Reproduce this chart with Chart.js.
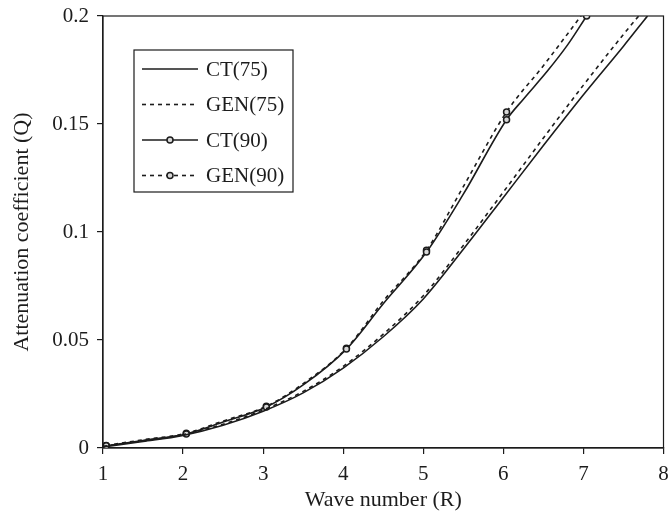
<!DOCTYPE html>
<html>
<head>
<meta charset="utf-8">
<script src="https://cdn.jsdelivr.net/npm/chart.js@4.4.1/dist/chart.umd.min.js"></script>
<style>
    html, body { margin: 0; padding: 0; background: #fff; }
</style>
</head>
<body>
<canvas id="chart" width="669" height="516"></canvas>
<script>
// Series names (legend order)
const seriesNames = ['CT(75)', 'GEN(75)', 'CT(90)', 'GEN(90)'];

// CT(75)
const ct75X = [1, 1.5, 2, 2.5, 3, 3.5, 4, 4.5, 5, 5.5, 6, 6.5, 7, 7.5, 7.8];
const ct75Y = [0.0005, 0.003, 0.0058, 0.0105, 0.017, 0.0255, 0.037, 0.0515, 0.069, 0.092, 0.116, 0.14, 0.1635, 0.186, 0.2];

// GEN(75)
const gen75X = [1, 1.5, 2, 2.5, 3, 3.5, 4, 4.5, 5, 5.5, 6, 6.5, 7, 7.5, 7.69];
const gen75Y = [0.0008, 0.0033, 0.0062, 0.011, 0.0176, 0.0262, 0.0378, 0.0527, 0.0705, 0.0938, 0.1185, 0.1435, 0.168, 0.1915, 0.2];

// CT(90)
const ct90X = [1.04, 1.5, 2.04, 2.5, 3.04, 3.5, 4.04, 4.5, 5.04, 5.5, 6.04, 6.25, 6.55, 6.8, 7.04];
const ct90Y = [0.001, 0.0035, 0.0065, 0.012, 0.019, 0.0292, 0.0458, 0.0668, 0.0907, 0.1175, 0.152, 0.1615, 0.1745, 0.1865, 0.2];

// GEN(90)
const gen90X = [1.04, 1.5, 2.04, 2.5, 3.04, 3.5, 4.04, 4.5, 5.04, 5.5, 6.04, 6.5, 6.97];
const gen90Y = [0.0012, 0.0038, 0.0068, 0.0125, 0.0193, 0.0298, 0.0462, 0.068, 0.0915, 0.121, 0.1556, 0.177, 0.2];

// x positions that carry a circle marker on the 90 series
const markerX = [1.04, 2.04, 3.04, 4.04, 5.04, 6.04, 7.04];

// Axis ticks
const xTicks = [1, 2, 3, 4, 5, 6, 7, 8];
const yTicks = [0, 0.05, 0.1, 0.15, 0.2];
const yTickLabels = ['0', '0.05', '0.1', '0.15', '0.2'];

const serif = '"Liberation Serif", "Times New Roman", serif';
const ink = '#1c1c1c';

function pts(xs, ys) {
    return xs.map((x, i) => ({ x: x, y: ys[i] }));
}

function markerRadius(ctx) {
    return ctx.raw && markerX.includes(ctx.raw.x) ? 3 : 0;
}

// box round the plot area
const frame = {
    id: 'frame',
    beforeDatasetsDraw(chart) {
        const c = chart.ctx, a = chart.chartArea;
        c.save();
        c.strokeStyle = ink;
        c.lineWidth = 1.2;
        c.strokeRect(a.left, a.top, a.right - a.left, a.bottom - a.top);
        c.restore();
    }
};

// legend drawn inside the plot, with line samples
const boxLegend = {
    id: 'boxLegend',
    afterDraw(chart) {
        const c = chart.ctx, a = chart.chartArea;
        const x0 = a.left + 31, y0 = a.top + 34, w = 159, h = 142;
        c.save();
        c.fillStyle = '#fff';
        c.fillRect(x0, y0, w, h);
        c.strokeStyle = ink;
        c.lineWidth = 1.2;
        c.strokeRect(x0, y0, w, h);
        chart.data.datasets.forEach((ds, i) => {
            const y = y0 + 19 + i * 35.5;
            const lx = x0 + 8, len = 56;
            c.beginPath();
            c.setLineDash(ds.borderDash || []);
            c.lineWidth = ds.borderWidth;
            c.strokeStyle = ds.borderColor;
            c.moveTo(lx, y);
            c.lineTo(lx + len, y);
            c.stroke();
            c.setLineDash([]);
            if (typeof ds.pointRadius === 'function') {
                c.beginPath();
                c.arc(lx + len / 2, y, 3, 0, Math.PI * 2);
                c.fillStyle = ds.pointBackgroundColor;
                c.fill();
                c.lineWidth = ds.pointBorderWidth;
                c.strokeStyle = ds.pointBorderColor;
                c.stroke();
            }
            c.fillStyle = ink;
            c.font = '21px ' + serif;
            c.textBaseline = 'middle';
            c.textAlign = 'left';
            c.fillText(ds.label, x0 + 72, y + 1);
        });
        c.restore();
    }
};

const lineBase = {
    borderColor: ink,
    borderWidth: 1.6,
    cubicInterpolationMode: 'monotone',
    pointBackgroundColor: '#d8d8d8',
    pointBorderColor: ink,
    pointBorderWidth: 1.5
};

const ctx = document.getElementById('chart').getContext('2d');
const chart = new Chart(ctx, {
    type: 'line',
    data: {
        datasets: [
            Object.assign({}, lineBase, { label: seriesNames[0], data: pts(ct75X, ct75Y), pointRadius: 0 }),
            Object.assign({}, lineBase, { label: seriesNames[1], data: pts(gen75X, gen75Y), pointRadius: 0, borderDash: [4, 4] }),
            Object.assign({}, lineBase, { label: seriesNames[2], data: pts(ct90X, ct90Y), pointRadius: markerRadius }),
            Object.assign({}, lineBase, { label: seriesNames[3], data: pts(gen90X, gen90Y), pointRadius: markerRadius, borderDash: [4, 4] })
        ]
    },
    options: {
        responsive: false,
        animation: false,
        layout: {
            padding: { top: 16, right: 4, left: 0, bottom: 0 }
        },
        plugins: {
            legend: { display: false },
            tooltip: { enabled: false }
        },
        scales: {
            x: {
                type: 'linear',
                min: 1,
                max: 8,
                afterBuildTicks: scale => { scale.ticks = xTicks.map(v => ({ value: v })); },
                afterFit: scale => {
                    scale.height = 68;
                    scale.paddingLeft = 0;
                    scale.paddingRight = 0;
                },
                border: { display: true, color: ink, width: 1.2 },
                grid: { drawOnChartArea: false, drawTicks: true, tickLength: 6, color: ink, lineWidth: 1.2 },
                ticks: {
                    color: ink,
                    padding: 8,
                    maxRotation: 0,
                    font: { family: serif, size: 21 },
                    callback: value => String(value)
                },
                title: {
                    display: true,
                    text: 'Wave number (R)',
                    color: ink,
                    font: { family: serif, size: 22 },
                    padding: { top: 0, bottom: 3 }
                }
            },
            y: {
                type: 'linear',
                min: 0,
                max: 0.2,
                afterBuildTicks: scale => { scale.ticks = yTicks.map(v => ({ value: v })); },
                afterFit: scale => {
                    scale.width = 103;
                    scale.paddingTop = 0;
                    scale.paddingBottom = 0;
                },
                border: { display: true, color: ink, width: 1.2 },
                grid: { drawOnChartArea: false, drawTicks: true, tickLength: 6, color: ink, lineWidth: 1.2 },
                ticks: {
                    color: ink,
                    padding: 8,
                    font: { family: serif, size: 21 },
                    callback: (value, index) => yTickLabels[index]
                },
                title: {
                    display: true,
                    text: 'Attenuation coefficient (Q)',
                    color: ink,
                    font: { family: serif, size: 22 },
                    padding: { top: 9, bottom: 0 }
                }
            }
        }
    },
    plugins: [frame, boxLegend]
});
</script>
</body>
</html>
